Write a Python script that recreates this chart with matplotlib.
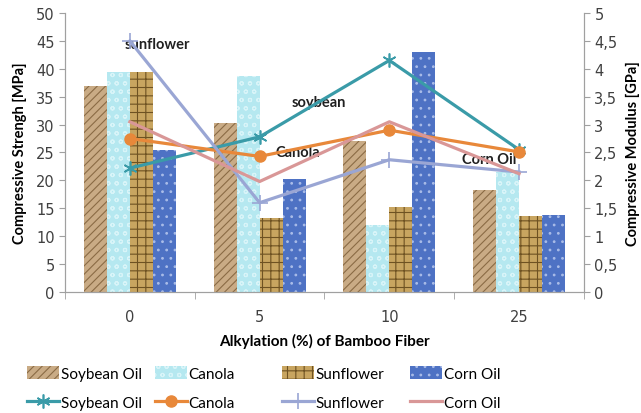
import matplotlib as mpl
mpl.use("Agg")
import matplotlib.pyplot as plt
import matplotlib.ticker as mticker
import numpy as np

categories = ['0', '5', '10', '25']
oils = ['Soybean Oil', 'Canola', 'Sunflower', 'Corn Oil']

# compressive strength [MPa], bars
strength_soybean = [37.0, 30.2, 27.0, 18.2]
strength_canola = [39.5, 38.7, 12.0, 21.5]
strength_sunflower = [39.5, 13.2, 15.3, 13.7]
strength_corn = [25.5, 20.2, 43.0, 13.8]

# compressive modulus [GPa], lines
modulus_soybean = [2.22, 2.78, 4.15, 2.55]
modulus_canola = [2.75, 2.43, 2.90, 2.51]
modulus_sunflower = [4.50, 1.60, 2.37, 2.15]
modulus_corn = [3.05, 1.98, 3.05, 2.12]

plt.rcParams['font.family'] = ['Lato', 'DejaVu Sans']
plt.rcParams['hatch.linewidth'] = 0.8

fig = plt.figure(figsize=(6.41, 4.14), dpi=100)
ax = fig.add_axes([0.1014, 0.2923, 0.8096, 0.6739])
ax2 = ax.twinx()

x = np.arange(len(categories))
w = 0.177
offs = [-1.5 * w, -0.5 * w, 0.5 * w, 1.5 * w]

bar_styles = [
    dict(color='#C9AB85', hatch='////', edgecolor='#8A6B45'),
    dict(color='#B5E8F0', hatch='oo', edgecolor='#D8F4F8'),
    dict(color='#C8A560', hatch='++', edgecolor='#6E5222'),
    dict(color='#4E72C4', hatch='..', edgecolor='#A9BCE8'),
]
bar_vals = [strength_soybean, strength_canola, strength_sunflower, strength_corn]
bars = []
for i, vals in enumerate(bar_vals):
    b = ax.bar(x + offs[i], vals, w, linewidth=0, zorder=2, **bar_styles[i])
    bars.append(b)

line_styles = [
    dict(color='#3A9BA8', marker=(6, 2, 0), markersize=10, mew=1.2),
    dict(color='#E8883A', marker='o', markersize=8),
    dict(color='#9AA6D4', marker='+', markersize=12, mew=1.2),
    dict(color='#D99797', marker=None),
]
line_vals = [modulus_soybean, modulus_canola, modulus_sunflower, modulus_corn]
lines = []
for i, vals in enumerate(line_vals):
    l, = ax2.plot(x, vals, lw=2.3, zorder=3, **line_styles[i])
    lines.append(l)

# axes limits and ticks
ax.set_xlim(-0.5, 3.5)
ax.set_ylim(0, 50)
ax2.set_ylim(0, 5)
ax.set_yticks(np.arange(0, 51, 5))
ax2.set_yticks(np.arange(0, 5.01, 0.5))
ax2.yaxis.set_major_formatter(mticker.FuncFormatter(
    lambda v, p: ('%g' % v).replace('.', ',')))
ax.set_xticks(x)
ax.set_xticklabels(categories)
ax.set_xticks(np.arange(-0.5, 3.6, 1), minor=True)
ax.tick_params(axis='x', which='major', length=0, pad=12)
ax.tick_params(axis='x', which='minor', length=5, color='#A0A0A0')

for a in (ax, ax2):
    a.spines['top'].set_visible(False)
    for s in ('left', 'right', 'bottom'):
        a.spines[s].set_color('#A0A0A0')
    a.tick_params(axis='y', length=4, color='#A0A0A0', labelsize=10.5,
                  labelcolor='#404040')
ax.tick_params(axis='x', labelsize=10.5, labelcolor='#404040')
for t in ax.get_yticklabels() + ax2.get_yticklabels() + ax.get_xticklabels():
    t.set_family('DejaVu Sans')

ax.set_ylabel('Compressive Strengh [MPa]', fontsize=10.5, fontweight='bold', labelpad=6)
ax2.set_ylabel('Compressive Modulus [GPa]', fontsize=10.5, fontweight='bold', labelpad=6)
ax.set_xlabel('Alkylation (%) of Bamboo Fiber', fontsize=11, fontweight='bold', labelpad=7)

# series labels on the chart
notes = [('sunflower', -0.04, 44.4), ('soybean', 1.25, 34.0),
         ('Canola', 1.12, 25.1), ('Corn Oil', 2.56, 23.8)]
for txt, tx, ty in notes:
    ax.text(tx, ty, txt, fontsize=10.5, fontweight='bold', color='#202020',
            ha='left', va='center', zorder=5)

# legend: four columns, bar on top, line below
col_x = [0.042, 0.242, 0.44, 0.64]
for i in range(4):
    fig.legend([bars[i], lines[i]], [oils[i], oils[i]], loc='upper left',
               bbox_to_anchor=(col_x[i], 0.113), frameon=False, fontsize=11,
               handlelength=2.1, handleheight=0.9, handletextpad=0.1,
               labelspacing=0.95, borderpad=0, borderaxespad=0)

fig.savefig('out.png', dpi=100)
